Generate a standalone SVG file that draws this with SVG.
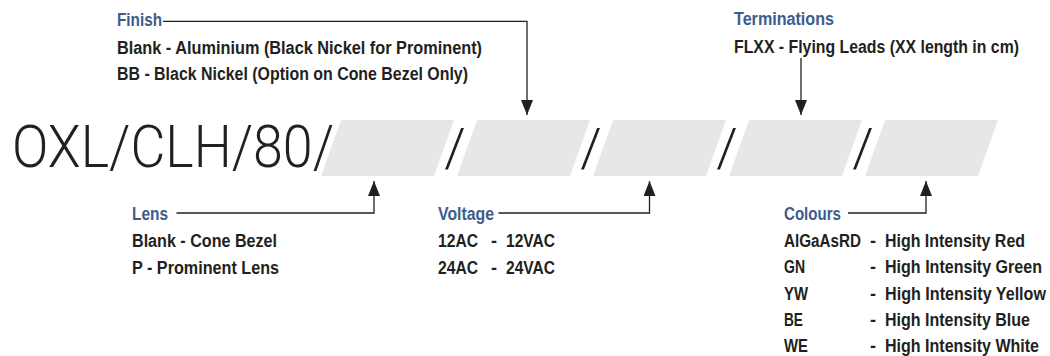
<svg xmlns="http://www.w3.org/2000/svg" width="1050" height="356" viewBox="0 0 1050 356">
<defs>
<style>
.big{font-family:Roboto,"Open Sans",Lato,"Liberation Sans",sans-serif;font-weight:300;font-size:60px;fill:#231f20}
.sep{font-family:Roboto,"Open Sans",Lato,"Liberation Sans",sans-serif;font-weight:300;font-size:54px;fill:#231f20}
.hd{font-family:"Liberation Sans",Arial,sans-serif;font-weight:bold;font-size:18px;fill:#3d5c8c}
.tx{font-family:"Liberation Sans",Arial,sans-serif;font-weight:bold;font-size:18px;fill:#231f20}
.blk{fill:#e6e7e8}
.con{fill:none;stroke:#231f20;stroke-width:1.3}
</style>
<marker id="ah" markerUnits="userSpaceOnUse" markerWidth="15" markerHeight="12" refX="15" refY="6" orient="auto">
<path d="M0,0 L15,6 L0,12 Z" fill="#231f20"/>
</marker>
</defs>
<g id="partcode">
<text class="big" x="12" y="167" textLength="322" lengthAdjust="spacingAndGlyphs">OXL/CLH/80/</text>
<polygon class="blk" points="341,120 454,120 434,176 321,176"/>
<polygon class="blk" points="477,120 590,120 570,176 457,176"/>
<polygon class="blk" points="613,120 726,120 706,176 593,176"/>
<polygon class="blk" points="749,120 862,120 842,176 729,176"/>
<polygon class="blk" points="885,120 998,120 978,176 865,176"/>
<text class="sep" x="455" y="166" text-anchor="middle">/</text>
<text class="sep" x="591" y="166" text-anchor="middle">/</text>
<text class="sep" x="727" y="166" text-anchor="middle">/</text>
<text class="sep" x="863" y="166" text-anchor="middle">/</text>
</g>
<g id="finish">
<text class="hd" x="117" y="26" textLength="45" lengthAdjust="spacingAndGlyphs">Finish</text>
<text class="tx" x="117" y="54" textLength="365" lengthAdjust="spacingAndGlyphs">Blank - Aluminium (Black Nickel for Prominent)</text>
<text class="tx" x="117" y="80" textLength="351" lengthAdjust="spacingAndGlyphs">BB - Black Nickel (Option on Cone Bezel Only)</text>
</g>
<g id="terminations">
<text class="hd" x="734" y="25" textLength="100" lengthAdjust="spacingAndGlyphs">Terminations</text>
<text class="tx" x="734" y="53" textLength="285" lengthAdjust="spacingAndGlyphs">FLXX - Flying Leads (XX length in cm)</text>
</g>
<g id="lens">
<text class="hd" x="132" y="220" textLength="36" lengthAdjust="spacingAndGlyphs">Lens</text>
<text class="tx" x="132" y="247" textLength="145" lengthAdjust="spacingAndGlyphs">Blank - Cone Bezel</text>
<text class="tx" x="132" y="274" textLength="147" lengthAdjust="spacingAndGlyphs">P - Prominent Lens</text>
</g>
<g id="voltage">
<text class="hd" x="438" y="220" textLength="56" lengthAdjust="spacingAndGlyphs">Voltage</text>
<text class="tx" x="438" y="247" textLength="40" lengthAdjust="spacingAndGlyphs">12AC</text>
<text class="tx" x="491" y="247">-</text>
<text class="tx" x="506" y="247" textLength="49" lengthAdjust="spacingAndGlyphs">12VAC</text>
<text class="tx" x="438" y="274" textLength="40" lengthAdjust="spacingAndGlyphs">24AC</text>
<text class="tx" x="491" y="274">-</text>
<text class="tx" x="506" y="274" textLength="49" lengthAdjust="spacingAndGlyphs">24VAC</text>
</g>
<g id="colours">
<text class="hd" x="784" y="220" textLength="57" lengthAdjust="spacingAndGlyphs">Colours</text>
<text class="tx" x="784" y="247" textLength="77" lengthAdjust="spacingAndGlyphs">AlGaAsRD</text>
<text class="tx" x="870" y="247">-</text>
<text class="tx" x="885" y="247" textLength="140" lengthAdjust="spacingAndGlyphs">High Intensity Red</text>
<text class="tx" x="784" y="273" textLength="21" lengthAdjust="spacingAndGlyphs">GN</text>
<text class="tx" x="870" y="273">-</text>
<text class="tx" x="885" y="273" textLength="157" lengthAdjust="spacingAndGlyphs">High Intensity Green</text>
<text class="tx" x="784" y="299.5" textLength="24" lengthAdjust="spacingAndGlyphs">YW</text>
<text class="tx" x="870" y="299.5">-</text>
<text class="tx" x="885" y="299.5" textLength="161" lengthAdjust="spacingAndGlyphs">High Intensity Yellow</text>
<text class="tx" x="784" y="326" textLength="19" lengthAdjust="spacingAndGlyphs">BE</text>
<text class="tx" x="870" y="326">-</text>
<text class="tx" x="885" y="326" textLength="145" lengthAdjust="spacingAndGlyphs">High Intensity Blue</text>
<text class="tx" x="784" y="352" textLength="24" lengthAdjust="spacingAndGlyphs">WE</text>
<text class="tx" x="870" y="352">-</text>
<text class="tx" x="885" y="352" textLength="154" lengthAdjust="spacingAndGlyphs">High Intensity White</text>
</g>
<g id="connectors">
<polyline class="con" points="163,21.3 527,21.3 527,115" marker-end="url(#ah)"/>
<polyline class="con" points="801,58 801,115" marker-end="url(#ah)"/>
<polyline class="con" points="176.5,213 374,213 374,181" marker-end="url(#ah)"/>
<polyline class="con" points="498.5,213 649.5,213 649.5,181" marker-end="url(#ah)"/>
<polyline class="con" points="848,213 926,213 926,181" marker-end="url(#ah)"/>
</g>
</svg>
